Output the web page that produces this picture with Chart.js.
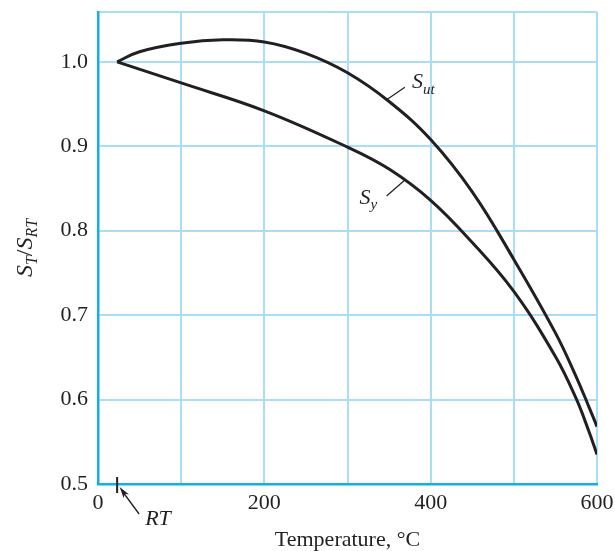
<!DOCTYPE html>
<html><head><meta charset="utf-8">
<script src="https://cdn.jsdelivr.net/npm/chart.js@4/dist/chart.umd.min.js"></script>
<style>html,body{margin:0;padding:0;background:#fff;overflow:hidden}</style>
</head><body>
<canvas id="c" width="615" height="551"></canvas>
<script>
// ---- data ----
const roomTemp = 23;
const sutTemps  = [23, 50, 100, 150, 200, 250, 300, 350, 400, 450, 500, 550, 575, 590, 600];
const sutValues = [1.000, 1.012, 1.022, 1.026, 1.0235, 1.010, 0.987, 0.953, 0.908, 0.846, 0.766, 0.679, 0.627, 0.592, 0.568];
const syTemps   = [23, 100, 200, 300, 350, 400, 450, 500, 550, 575, 590, 600];
const syValues  = [1.000, 0.975, 0.942, 0.899, 0.873, 0.836, 0.786, 0.728, 0.651, 0.601, 0.563, 0.535];
const xTickLabels = ['0', '200', '400', '600'];
const yTickLabels = ['0.5', '0.6', '0.7', '0.8', '0.9', '1.0'];
const sutLeader = [[347, 0.955], [369, 0.970]];
const syLeader  = [[369, 0.860], [347, 0.841]];

const INK = '#231F20';
const GRID = '#A9DEF6';
const AXIS = '#12AEEA';
const SERIF = "'Liberation Serif', 'DejaVu Serif', serif";

function pts(xs, ys) { return xs.map((x, i) => ({x: x, y: ys[i]})); }

const annot = {
  id: 'annot',
  afterDraw(chart) {
    const ctx = chart.ctx, xs = chart.scales.x, ys = chart.scales.y;
    const area = chart.chartArea;
    ctx.save();
    ctx.fillStyle = INK; ctx.strokeStyle = INK;
    ctx.textBaseline = 'alphabetic'; ctx.textAlign = 'left';

    function runs(list, x, y) {
      let cx = x;
      for (const [t, f, dy] of list) { ctx.font = f; ctx.fillText(t, cx, y + dy); cx += ctx.measureText(t).width; }
    }
    function width(list) {
      let w = 0; for (const [t, f] of list) { ctx.font = f; w += ctx.measureText(t).width; } return w;
    }
    const big = 'italic 22px ' + SERIF, sub = 'italic 15px ' + SERIF;
    const tBig = 'italic 24px ' + SERIF, tSub = 'italic 16px ' + SERIF, tUp = '24px ' + SERIF;

    // y axis title S_T / S_RT
    const yt = [['S', tBig, 0], ['T', tSub, 5], ['/', tUp, 0], ['S', tBig, 0], ['RT', tSub, 5]];
    ctx.save();
    ctx.translate(32, (area.top + area.bottom) / 2);
    ctx.rotate(-Math.PI / 2);
    runs(yt, -width(yt) / 2, 0);
    ctx.restore();

    // leader lines
    ctx.lineWidth = 1.2;
    function leader(l) {
      ctx.beginPath();
      ctx.moveTo(xs.getPixelForValue(l[0][0]), ys.getPixelForValue(l[0][1]));
      ctx.lineTo(xs.getPixelForValue(l[1][0]), ys.getPixelForValue(l[1][1]));
      ctx.stroke();
    }
    leader(sutLeader); leader(syLeader);
    const se = [xs.getPixelForValue(sutLeader[1][0]), ys.getPixelForValue(sutLeader[1][1])];
    runs([['S', big, 0], ['ut', sub, 6]], se[0] + 7, se[1] + 1);
    const ye = [xs.getPixelForValue(syLeader[1][0]), ys.getPixelForValue(syLeader[1][1])];
    runs([['S', big, 0], ['y', sub, 5]], ye[0] - 27, ye[1] + 8);

    // RT tick mark and arrow
    const rx = xs.getPixelForValue(roomTemp), b = area.bottom;
    ctx.lineWidth = 2;
    ctx.beginPath(); ctx.moveTo(rx, b - 7); ctx.lineTo(rx, b + 9); ctx.stroke();
    const tip = [rx + 2.5, b + 3], tail = [rx + 22, b + 30];
    ctx.lineWidth = 1.3;
    ctx.beginPath(); ctx.moveTo(tip[0] + 4, tip[1] + 6); ctx.lineTo(tail[0], tail[1]); ctx.stroke();
    const ang = Math.atan2(tail[1] - tip[1], tail[0] - tip[0]);
    const L = 12, W = 0.28;
    ctx.beginPath();
    ctx.moveTo(tip[0], tip[1]);
    ctx.lineTo(tip[0] + L * Math.cos(ang - W), tip[1] + L * Math.sin(ang - W));
    ctx.lineTo(tip[0] + 0.7 * L * Math.cos(ang), tip[1] + 0.7 * L * Math.sin(ang));
    ctx.lineTo(tip[0] + L * Math.cos(ang + W), tip[1] + L * Math.sin(ang + W));
    ctx.closePath(); ctx.fill();
    runs([['RT', big, 0]], rx + 28, b + 41);
    ctx.restore();
  }
};

new Chart(document.getElementById('c'), {
  type: 'line',
  data: {
    datasets: [
      {label: 'Sut', data: pts(sutTemps, sutValues), tension: 0.4},
      {label: 'Sy', data: pts(syTemps, syValues), tension: 0.4}
    ]
  },
  options: {
    responsive: false,
    animation: false,
    devicePixelRatio: 1,
    layout: {padding: {top: 12, right: 18, left: 0, bottom: 0}},
    elements: {
      point: {radius: 0, hoverRadius: 0},
      line: {borderColor: INK, borderWidth: 3, fill: false, borderCapStyle: 'butt', borderJoinStyle: 'round'}
    },
    plugins: {legend: {display: false}, tooltip: {enabled: false}},
    scales: {
      x: {
        type: 'linear', min: 0, max: 600,
        ticks: {
          stepSize: 100, autoSkip: false, maxRotation: 0, padding: 6, color: INK,
          font: {family: SERIF, size: 22},
          callback: v => xTickLabels.includes(String(v)) ? String(v) : ''
        },
        grid: {color: GRID, lineWidth: 2, drawTicks: false},
        border: {color: AXIS, width: 2.5},
        title: {display: true, text: 'Temperature, °C', color: INK, font: {family: SERIF, size: 22}, padding: {top: 0, bottom: -2}},
        afterFit: s => { s.height = 67; s.paddingLeft = 0; s.paddingRight = 0; }
      },
      y: {
        type: 'linear', min: 0.5, max: 1.059,
        ticks: {
          stepSize: 0.1, padding: 10, color: INK,
          font: {family: SERIF, size: 22},
          callback: v => { const s = v.toFixed(1); return (Math.abs(v - parseFloat(s)) < 1e-6 && yTickLabels.includes(s)) ? s : ''; }
        },
        grid: {color: GRID, lineWidth: 2, drawTicks: false},
        border: {color: AXIS, width: 2.5},
        afterFit: s => { s.width = 98; s.paddingTop = 0; s.paddingBottom = 0; }
      }
    }
  },
  plugins: [annot]
});
</script>
</body></html>
